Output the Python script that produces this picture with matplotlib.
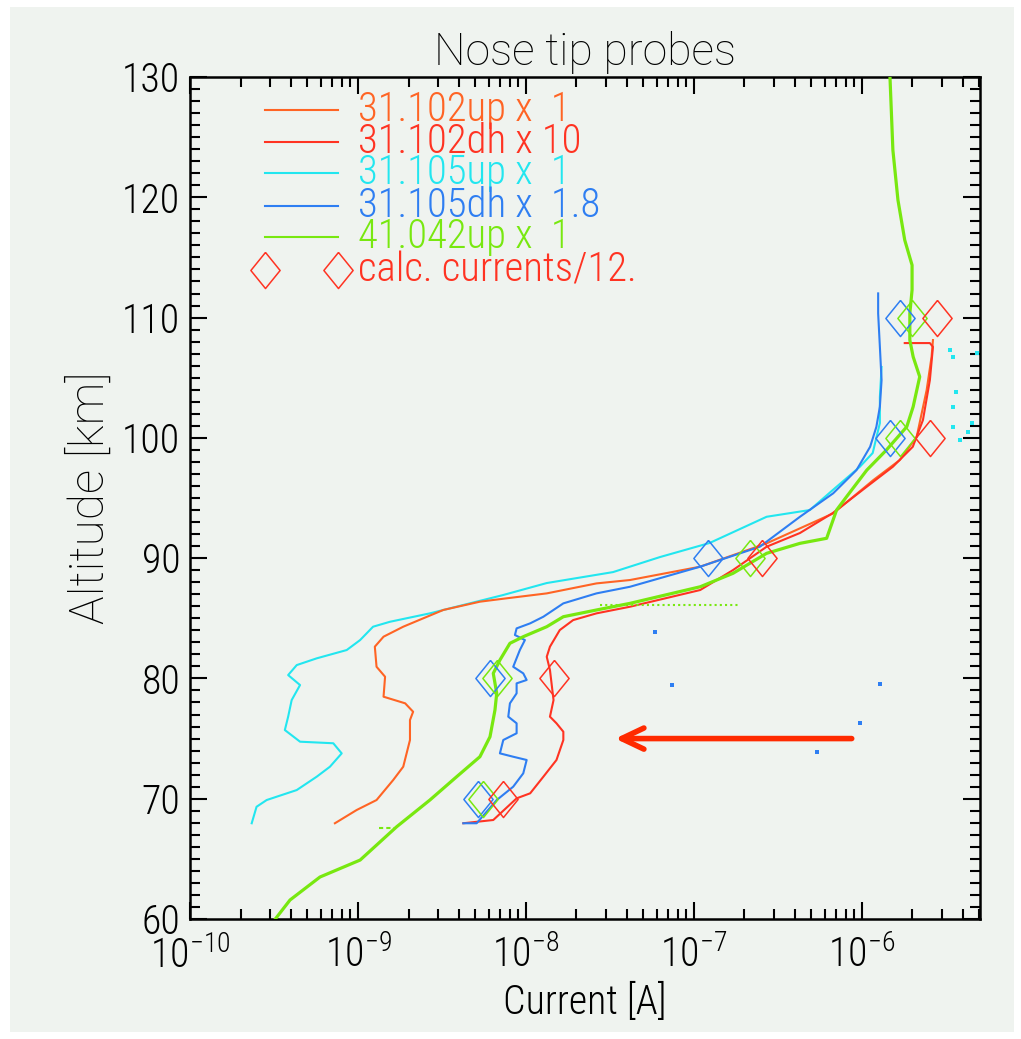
import numpy as np
import matplotlib
matplotlib.use("Agg")
import matplotlib.pyplot as plt
from matplotlib import font_manager as fm
from matplotlib.patches import Rectangle
from matplotlib.ticker import FixedLocator, MultipleLocator, LogFormatterMathtext, NullFormatter

# ---------------- data (altitude km, current A) ----------------
cyan_alt = [67.96, 69.33, 69.89, 70.72, 71.83, 72.66, 73.77, 74.61, 74.74, 75.71, 76.82, 78.2, 79.45,
            80.28, 81.11, 81.67, 82.36, 83.19, 84.3, 84.71, 85.41, 86.1, 86.93, 87.93, 88.84, 90.09,
            91.26, 93.44, 94.0, 95.66, 97.6, 98.74, 101.23, 103.39, 105.89]
cyan_cur = [2.33e-10, 2.49e-10, 2.86e-10, 4.32e-10, 5.68e-10, 6.81e-10, 8.0e-10, 7.13e-10, 4.52e-10,
            3.67e-10, 3.84e-10, 4.03e-10, 4.52e-10, 3.84e-10, 4.32e-10, 5.68e-10, 8.57e-10, 1.03e-9,
            1.23e-9, 1.55e-9, 2.68e-9, 4.22e-9, 7.3e-9, 1.33e-8, 3.3e-8, 6.28e-8, 1.24e-7, 2.71e-7,
            4.9e-7, 6.71e-7, 9.73e-7, 1.16e-6, 1.28e-6, 1.28e-6, 1.31e-6]
cyan_dot_alt = [107.3, 106.7, 107.05, 102.56, 103.8, 100.9, 101.23, 100.48, 99.8]
cyan_dot_cur = [3.34e-6, 3.48e-6, 4.84e-6, 3.48e-6, 3.63e-6, 3.48e-6, 4.52e-6, 4.28e-6, 3.83e-6]

orange_alt = [67.96, 69.06, 69.89, 71.55, 72.66, 74.88, 76.54, 77.23, 77.93, 78.48, 80.14, 80.97,
              82.64, 83.47, 84.3, 85.0, 85.69, 86.38, 86.66, 87.07, 87.9, 88.18, 89.29, 91.23,
              93.72, 96.49, 98.15, 100.09, 103.97, 106.74, 108.13]
orange_cur = [7.29e-10, 9.82e-10, 1.29e-9, 1.62e-9, 1.86e-9, 2.04e-9, 2.04e-9, 2.13e-9, 1.91e-9,
              1.42e-9, 1.45e-9, 1.29e-9, 1.26e-9, 1.42e-9, 1.86e-9, 2.45e-9, 3.22e-9, 5.32e-9,
              7.67e-9, 1.33e-8, 2.63e-8, 4.16e-8, 1.09e-7, 2.71e-7, 6.75e-7, 1.17e-6, 1.68e-6,
              2.12e-6, 2.43e-6, 2.6e-6, 2.65e-6]

red_alt = [67.96, 68.23, 70.03, 70.45, 71.83, 73.22, 74.88, 75.57, 76.27, 76.82, 78.2, 80.7, 81.8,
           82.64, 84.02, 84.85, 85.41, 85.96, 87.35, 89.01, 90.95, 92.09, 93.75, 95.94, 97.6,
           99.26, 101.48, 104.8, 107.57, 107.88, 107.88]
red_cur = [4.24e-9, 6.39e-9, 8.8e-9, 1.06e-8, 1.27e-8, 1.52e-8, 1.67e-8, 1.67e-8, 1.52e-8, 1.39e-8,
           1.46e-8, 1.39e-8, 1.33e-8, 1.39e-8, 1.59e-8, 1.91e-8, 2.63e-8, 4.16e-8, 1.09e-7, 1.71e-7,
           2.71e-7, 4.28e-7, 6.71e-7, 1.07e-6, 1.53e-6, 2.01e-6, 2.31e-6, 2.54e-6, 2.65e-6,
           2.54e-6, 1.8e-6]

blue_alt = [67.96, 67.96, 69.89, 71.0, 72.11, 73.22, 73.49, 73.77, 74.88, 75.44, 76.27, 76.82,
            77.93, 78.76, 79.59, 79.87, 80.42, 80.97, 82.36, 83.19, 83.61, 84.16, 84.58, 85.13,
            86.24, 87.07, 87.62, 89.29, 90.95, 93.44, 95.39, 97.32, 99.26, 100.92, 102.59, 104.8,
            107.57, 110.35, 112.01]
blue_cur = [4.24e-9, 5.09e-9, 6.7e-9, 8.4e-9, 9.64e-9, 1.01e-8, 8.4e-9, 7.0e-9, 7.33e-9, 8.8e-9,
            8.8e-9, 7.85e-9, 8.03e-9, 8.8e-9, 8.8e-9, 1.01e-8, 9.64e-9, 8.4e-9, 9.2e-9, 9.86e-9,
            8.6e-9, 8.8e-9, 1.06e-8, 1.27e-8, 1.67e-8, 2.63e-8, 4.16e-8, 1.09e-7, 2.47e-7, 4.28e-7,
            6.75e-7, 9.29e-7, 1.12e-6, 1.22e-6, 1.28e-6, 1.31e-6, 1.28e-6, 1.25e-6, 1.25e-6]
blue_dot_alt = [83.86, 79.45, 79.5, 76.3, 73.9]
blue_dot_cur = [5.86e-8, 7.4e-8, 1.28e-6, 9.73e-7, 5.37e-7]

green_alt = [59.42, 61.58, 63.49, 64.9, 67.67, 69.89, 71.83, 73.49, 75.15, 77.37, 78.76, 80.42,
             81.53, 82.92, 83.47, 84.3, 85.13, 85.69, 86.24, 87.62, 88.74, 90.4, 91.23, 91.65,
             94.0, 95.1, 97.32, 98.99, 100.92, 102.59, 105.08, 106.74, 108.13, 110.35, 112.29,
             114.36, 116.44, 119.77, 123.92, 130.0]
green_cur = [2.99e-10, 3.94e-10, 5.94e-10, 1.03e-9, 1.7e-9, 2.68e-9, 3.87e-9, 5.32e-9, 6.11e-9,
             6.54e-9, 6.7e-9, 6.39e-9, 7.0e-9, 8.03e-9, 9.64e-9, 1.33e-8, 1.67e-8, 2.63e-8, 4.16e-8,
             1.09e-7, 1.71e-7, 2.71e-7, 4.28e-7, 6.17e-7, 7.07e-7, 8.1e-7, 1.07e-6, 1.4e-6, 1.85e-6,
             2.02e-6, 2.21e-6, 2.02e-6, 1.93e-6, 1.93e-6, 1.99e-6, 1.99e-6, 1.8e-6, 1.64e-6,
             1.53e-6, 1.47e-6]
green_tail_alt = [86.1, 86.1]
green_tail_cur = [2.75e-8, 1.86e-7]
green_dash_alt = [67.56, 67.56]
green_dash_cur = [1.33e-9, 1.67e-9]

# calculated currents / 12 (diamonds)
calc_alt = [70, 80, 90, 100, 110]
calc_blue = [5.18e-9, 6.1e-9, 1.21e-7, 1.47e-6, 1.68e-6]
calc_green = [5.57e-9, 6.7e-9, 2.15e-7, 1.68e-6, 1.98e-6]
calc_red = [7.33e-9, 1.46e-8, 2.53e-7, 2.54e-6, 2.79e-6]

legend_labels = ["31.102up x  1", "31.102dh x 10", "31.105up x  1", "31.105dh x  1.8",
                 "41.042up x  1", "calc. currents/12."]

x_major = [1e-10, 1e-9, 1e-8, 1e-7, 1e-6]
y_major_step = 10
y_minor_step = 1

arrow_alt = 75.0
arrow_from = 8.7e-7
arrow_to = 3.4e-8

# ---------------- style ----------------
C_ORANGE = "#ff6424"
C_RED = "#ff3322"
C_CYAN = "#22e6ef"
C_BLUE = "#2e7ef2"
C_GREEN = "#78e810"
C_ARROW = "#ff2a00"
BG = "#eff3ef"

names = {f.name for f in fm.fontManager.ttflist}
NARROW = None
for cand in ("Liberation Sans Narrow", "Roboto Condensed", "Arial Narrow"):
    if cand in names:
        NARROW = cand
        break
REG = "Liberation Sans" if "Liberation Sans" in names else "DejaVu Sans"
WIDE = "Roboto" if "Roboto" in names else REG
FONT = NARROW if NARROW else REG
k = 1.15 if NARROW else 1.0

plt.rcParams["font.family"] = [FONT, "DejaVu Sans"]
plt.rcParams["font.weight"] = "light"
plt.rcParams["mathtext.fontset"] = "custom"
plt.rcParams["mathtext.rm"] = FONT + ":light"
plt.rcParams["mathtext.it"] = FONT + ":light"
plt.rcParams["mathtext.bf"] = FONT

W, H = 1021, 1039
fig = plt.figure(figsize=(W / 100, H / 100), dpi=100, facecolor="white")
fig.patches.append(Rectangle((10 / W, 7 / H), 1004 / W, 1025 / H, transform=fig.transFigure,
                             facecolor=BG, edgecolor="none", zorder=-10))

ax = fig.add_axes([190 / W, (H - 919) / H, 790 / W, 842 / H])
ax.set_facecolor(BG)
ax.set_xscale("log")
ax.set_xlim(1e-10, 5.05e-6)
ax.set_ylim(60, 130)

lw = 1.5
ax.plot(cyan_cur, cyan_alt, color=C_CYAN, lw=lw, zorder=3)
ax.plot(cyan_dot_cur, cyan_dot_alt, ls="none", marker="s", ms=2.4, mew=0, color=C_CYAN, zorder=3)
ax.plot(orange_cur, orange_alt, color=C_ORANGE, lw=lw, zorder=4)
ax.plot(blue_cur, blue_alt, color=C_BLUE, lw=lw, zorder=5)
ax.plot(blue_dot_cur, blue_dot_alt, ls="none", marker="s", ms=2.2, mew=0, color=C_BLUE, zorder=5)
ax.plot(red_cur, red_alt, color=C_RED, lw=lw, zorder=4)
ax.plot(green_cur, green_alt, color=C_GREEN, lw=2.3, zorder=6)
ax.plot(green_tail_cur, green_tail_alt, color=C_GREEN, lw=1.5, ls=(0, (1, 1.5)), zorder=6)
ax.plot(green_dash_cur, green_dash_alt, color=C_GREEN, lw=1.5, ls=(0, (2, 1.5)), zorder=6)

diamond = [(0, 1), (0.81, 0), (0, -1), (-0.81, 0), (0, 1)]
for vals, col in ((calc_blue, C_BLUE), (calc_green, C_GREEN), (calc_red, C_RED)):
    ax.plot(vals, calc_alt, ls="none", marker=diamond, ms=26, mfc="none", mec=col, mew=1.1, zorder=7)

ax.annotate("", xy=(arrow_to, arrow_alt), xytext=(arrow_from, arrow_alt),
            arrowprops=dict(arrowstyle="->,head_length=0.8,head_width=0.38", color=C_ARROW,
                            lw=4, mutation_scale=20, shrinkA=0, shrinkB=0), zorder=8)

# ---------------- axes ----------------
x_minor = [m * d for d in x_major for m in range(2, 10) if m * d <= ax.get_xlim()[1]]
ax.xaxis.set_major_locator(FixedLocator(x_major))
ax.xaxis.set_minor_locator(FixedLocator(x_minor))
ax.xaxis.set_major_formatter(LogFormatterMathtext())
ax.xaxis.set_minor_formatter(NullFormatter())
ax.yaxis.set_major_locator(MultipleLocator(y_major_step))
ax.yaxis.set_minor_locator(MultipleLocator(y_minor_step))
ax.tick_params(which="both", direction="in", top=True, right=True, width=1.5, color="black")
ax.tick_params(which="major", length=12.5, labelsize=25 * k)
ax.tick_params(axis="y", which="major", pad=7)
ax.tick_params(axis="x", which="major", pad=12)
ax.tick_params(which="minor", length=7)
for s in ax.spines.values():
    s.set_linewidth(1.8)

ax.set_xlabel("Current [A]", fontsize=25 * k, weight="light", labelpad=5)
ax.set_ylabel("Altitude [km]", fontsize=34.5, family=[WIDE, "DejaVu Sans"], weight="light", labelpad=6)
ax.set_title("Nose tip probes", fontsize=32, family=[WIDE, "DejaVu Sans"], weight="light", pad=9)

# ---------------- legend (manual, IDL style) ----------------
colors = [C_ORANGE, C_RED, C_CYAN, C_BLUE, C_GREEN, C_RED]
row_y = [0.9608, 0.9228, 0.886, 0.8468, 0.81, 0.7708]
for i, (lab, col) in enumerate(zip(legend_labels, colors)):
    y = row_y[i]
    if i < 5:
        ax.plot([0.095, 0.1873], [y, y], transform=ax.transAxes, color=col, lw=1.5, zorder=9)
    else:
        ax.plot([0.095, 0.1873], [y, y], transform=ax.transAxes, ls="none", marker=diamond,
                ms=26, mfc="none", mec=col, mew=1.1, zorder=9)
    ax.text(0.2127, y, lab, transform=ax.transAxes, color=col, fontsize=25.5 * k, va="center",
            ha="left", zorder=9)

fig.savefig("out.png", dpi=100, facecolor="white")
